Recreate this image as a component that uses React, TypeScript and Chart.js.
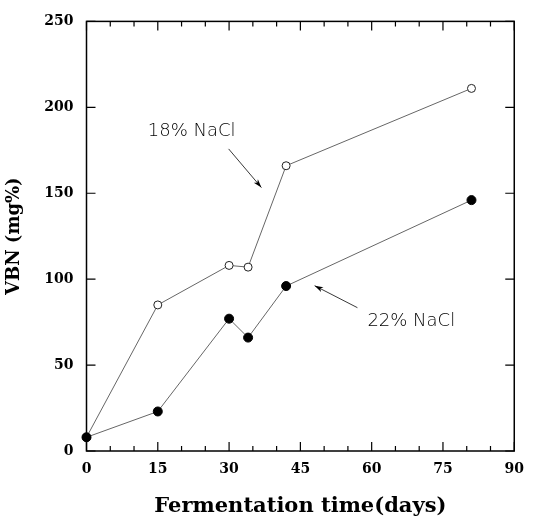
import React, { useEffect, useRef } from "react";
import { Chart, registerables } from "chart.js";

Chart.register(...registerables);

// ---- data ----
const days = [0, 15, 30, 34, 42, 81];
const vbn18 = [8, 85, 108, 107, 166, 211];
const vbn22 = [8, 23, 77, 66, 96, 146];
const seriesNames = ["18% NaCl", "22% NaCl"];
const xTitle = "Fermentation time(days)";
const yTitle = "VBN (mg%)";
const xRange = [0, 90];
const yRange = [0, 250];
const xStep = 15;
const xMinorStep = 5;
const yStep = 50;

// annotation anchors (data units): label start, arrow tail, arrow head
const noteText = seriesNames;
const noteLabelX = [12.9, 59.1];
const noteLabelY = [186, 75.4];
const noteArrowFromX = [29.9, 57.0];
const noteArrowFromY = [175.8, 83.4];
const noteArrowToX = [36.8, 48.0];
const noteArrowToY = [153.3, 96.2];

const serif = "'DejaVu Serif', serif";
const sans = "'DejaVu Sans', sans-serif";

const framePlugin = {
  id: "frameTicks",
  beforeDatasetsDraw(chart: any) {
    const { ctx, chartArea: a, scales } = chart;
    const x = scales.x;
    const y = scales.y;
    ctx.save();
    ctx.strokeStyle = "#000";
    ctx.lineWidth = 1.5;
    ctx.strokeRect(a.left, a.top, a.right - a.left, a.bottom - a.top);
    ctx.lineWidth = 1.2;
    ctx.beginPath();
    for (let v = x.min; v <= x.max + 1e-6; v += xMinorStep) {
      const px = x.getPixelForValue(v);
      const len = Math.abs(v % xStep) < 1e-6 ? 9 : 5;
      ctx.moveTo(px, a.bottom);
      ctx.lineTo(px, a.bottom - len);
      ctx.moveTo(px, a.top);
      ctx.lineTo(px, a.top + len);
    }
    for (const t of y.ticks) {
      const py = y.getPixelForValue(t.value);
      ctx.moveTo(a.left, py);
      ctx.lineTo(a.left + 9, py);
      ctx.moveTo(a.right, py);
      ctx.lineTo(a.right - 9, py);
    }
    ctx.stroke();
    ctx.restore();
  },
  afterDatasetsDraw(chart: any) {
    const { ctx, scales } = chart;
    const x = scales.x;
    const y = scales.y;
    ctx.save();
    ctx.fillStyle = "#000";
    ctx.strokeStyle = "#222";
    ctx.font = `300 18px ${sans}`;
    ctx.textAlign = "left";
    ctx.textBaseline = "middle";
    for (let i = 0; i < noteText.length; i++) {
      ctx.fillText(noteText[i], x.getPixelForValue(noteLabelX[i]), y.getPixelForValue(noteLabelY[i]));
      const x0 = x.getPixelForValue(noteArrowFromX[i]);
      const y0 = y.getPixelForValue(noteArrowFromY[i]);
      const x1 = x.getPixelForValue(noteArrowToX[i]);
      const y1 = y.getPixelForValue(noteArrowToY[i]);
      const ang = Math.atan2(y1 - y0, x1 - x0);
      ctx.lineWidth = 0.9;
      ctx.beginPath();
      ctx.moveTo(x0, y0);
      ctx.lineTo(x1, y1);
      ctx.stroke();
      const hl = 9;
      const ha = 0.3;
      ctx.beginPath();
      ctx.moveTo(x1, y1);
      ctx.lineTo(x1 - hl * Math.cos(ang - ha), y1 - hl * Math.sin(ang - ha));
      ctx.lineTo(x1 - hl * 0.7 * Math.cos(ang), y1 - hl * 0.7 * Math.sin(ang));
      ctx.lineTo(x1 - hl * Math.cos(ang + ha), y1 - hl * Math.sin(ang + ha));
      ctx.closePath();
      ctx.fill();
    }
    ctx.restore();
  },
};

export default function App() {
  const ref = useRef<HTMLCanvasElement | null>(null);

  useEffect(() => {
    if (!ref.current) return;
    const chart = new Chart(ref.current, {
      type: "line",
      data: {
        datasets: [
          {
            label: seriesNames[1],
            data: days.map((d, i) => ({ x: d, y: vbn22[i] })),
            borderColor: "#666",
            borderWidth: 1,
            pointRadius: 4.5,
            pointBackgroundColor: "#000",
            pointBorderColor: "#000",
            pointBorderWidth: 1,
            tension: 0,
            clip: false,
          },
          {
            label: seriesNames[0],
            data: days.map((d, i) => ({ x: d, y: vbn18[i] })),
            borderColor: "#666",
            borderWidth: 1,
            pointRadius: 4,
            pointBackgroundColor: "#fff",
            pointBorderColor: "#222",
            pointBorderWidth: 1,
            tension: 0,
            clip: false,
          },
        ],
      },
      options: {
        animation: false,
        responsive: false,
        devicePixelRatio: 1,
        layout: { padding: { left: 0, right: 11, top: 13.5, bottom: 0 } },
        plugins: {
          legend: { display: false },
          tooltip: { enabled: false },
        },
        scales: {
          x: {
            type: "linear",
            min: xRange[0],
            max: xRange[1],
            grid: { display: false, drawTicks: false },
            border: { display: false },
            ticks: {
              stepSize: xStep,
              padding: 10,
              color: "#000",
              font: { family: serif, weight: "bold", size: 14 },
            },
            title: {
              display: true,
              text: xTitle,
              color: "#000",
              font: { family: serif, weight: "bold", size: 21, lineHeight: 1 },
              padding: { top: 0, bottom: 0 },
            },
            afterFit(scale: any) {
              scale.height = 66;
            },
          },
          y: {
            type: "linear",
            min: yRange[0],
            max: yRange[1],
            grid: { display: false, drawTicks: false },
            border: { display: false },
            ticks: {
              stepSize: yStep,
              padding: 13,
              color: "#000",
              font: { family: serif, weight: "bold", size: 14 },
            },
            title: {
              display: true,
              text: yTitle,
              color: "#000",
              font: { family: serif, weight: "bold", size: 18 },
              padding: { top: 4, bottom: 0 },
            },
            afterFit(scale: any) {
              scale.width = 86.5;
            },
          },
        },
      },
      plugins: [framePlugin],
    } as any);
    return () => chart.destroy();
  }, []);

  return (
    <div style={{ position: "absolute", left: 0, top: 0, width: 534, height: 517, background: "#fff" }}>
      <canvas ref={ref} width={534} height={517} style={{ display: "block" }} />
    </div>
  );
}
